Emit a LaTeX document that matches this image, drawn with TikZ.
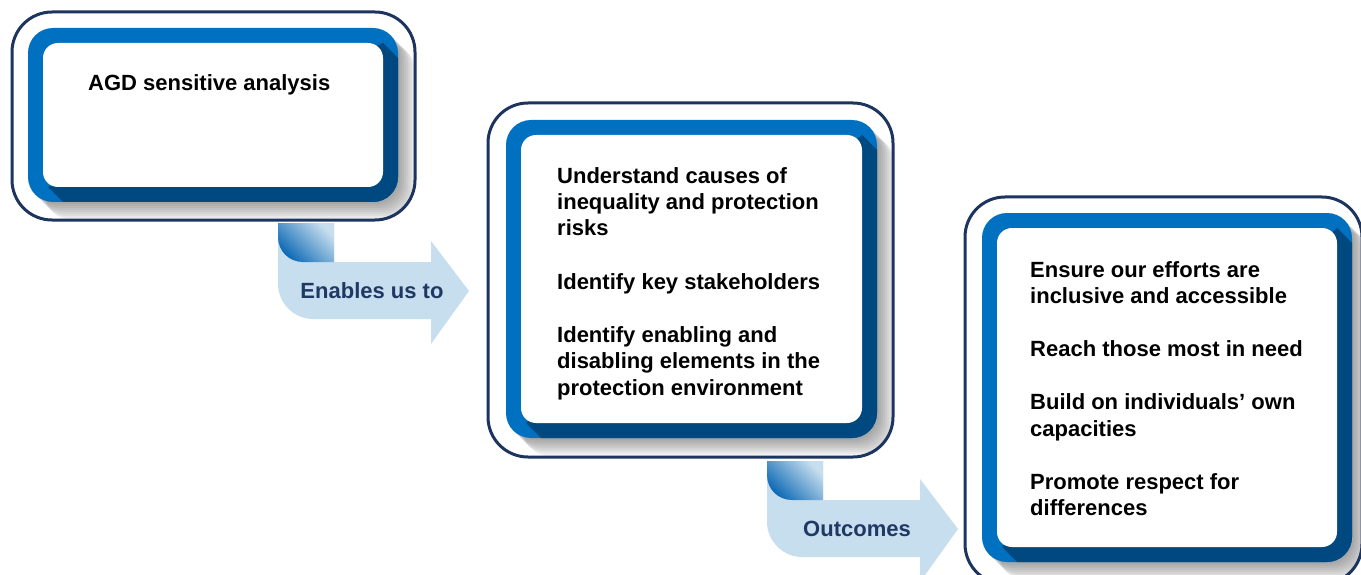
\documentclass[tikz,border=0pt]{standalone}
\usepackage{fontspec}
\setmainfont{Liberation Sans}
\usetikzlibrary{calc}
\definecolor{navy}{RGB}{28,52,94}
\definecolor{frameblue}{RGB}{0,112,192}
\definecolor{darkblue}{RGB}{0,72,128}
\definecolor{lightarrow}{RGB}{199,222,238}
\definecolor{gradblue}{RGB}{10,104,180}
\definecolor{arrowtext}{RGB}{31,56,100}
\tikzset{
  txt/.style={anchor=base west, inner sep=0pt, font=\fontsize{22}{26.5}\selectfont\bfseries, text=black},
  arrtxt/.style={anchor=base, inner sep=0pt, font=\fontsize{22}{26.5}\selectfont\bfseries, text=arrowtext},
  outerline/.style={draw=navy, line width=3pt, rounded corners=40pt},
}
% #1-#4 outer box, #5-#8 blue frame
\newcommand{\agdpanel}[8]{%
  \fill[white, rounded corners=40pt] (#1,#2) rectangle (#3,#4);
  \begin{scope}
    \clip[rounded corners=40pt] (#1,#2) rectangle (#3,#4);
    \foreach \k in {2,4,...,18} {
      \fill[black, opacity=0.045, rounded corners=25pt] ($(#5,#6)+(\k,\k)$) rectangle ($(#7,#8)+(\k,\k)$);
    }
  \end{scope}
  \draw[outerline] (#1,#2) rectangle (#3,#4);
  \fill[frameblue, rounded corners=25pt] (#5,#6) rectangle (#7,#8);
  \begin{scope}
    \clip[rounded corners=25pt] (#5,#6) rectangle (#7,#8);
    \fill[darkblue] ($(#5,#8)+(20,-15)$) -- ($(#5,#8)+(50,15)$) -- ($(#7,#8)+(15,15)$)
       -- ($(#7,#6)+(15,45)$) -- ($(#7,#6)+(-15,15)$) -- cycle;
  \end{scope}
  \fill[white, rounded corners=15pt] ($(#5,#6)+(15,15)$) rectangle ($(#7,#8)+(-15,-15)$);
}
\newcommand{\agdarrow}[2]{%
  \begin{scope}[shift={(#1,#2)}]
    \fill[lightarrow] (334,223) -- (278,223) -- (278,284)
      .. controls (278,303) and (294,319) .. (313,319)
      -- (431,319) -- (431,344) -- (469,291) -- (431,241) -- (431,262) -- (334,262) -- cycle;
    \shade[shading=axis, top color=lightarrow, bottom color=gradblue, shading angle=-45]
      (278,223) -- (278,237) .. controls (278,251) and (289,262) .. (303,262)
      -- (334,262) -- (334,223) -- cycle;
  \end{scope}
}
\begin{document}
\begin{tikzpicture}[x=1pt, y=-1pt]
\useasboundingbox (0,0) rectangle (1361,575);
\begin{scope}
\clip (0,0) rectangle (1361,575);
\fill[white] (0,0) rectangle (1361,575);

% arrows
\agdarrow{0}{0}
\agdarrow{489}{238}

% panels
\agdpanel{12}{12}{415}{220}{28}{28}{398}{202}
\agdpanel{488}{103}{893}{457}{506}{120}{877}{438}
\agdpanel{965}{197}{1362}{584}{982}{213}{1352}{562}

% box 1 text
\node[txt] (a1) at (88,91) {AGD sensitive analysis};

% box 2 text
\node[txt] (b1) at (557,183) {Understand causes of};
\node[txt] (b2) at (557,209.5) {inequality and protection};
\node[txt] (b3) at (557,236) {risks};
\node[txt] (b4) at (557,289) {Identify key stakeholders};
\node[txt] (b5) at (557,342) {Identify enabling and};
\node[txt] (b6) at (557,368.5) {disabling elements in the};
\node[txt] (b7) at (557,395) {protection environment};

% box 3 text
\node[txt] (c1) at (1030,277) {Ensure our efforts are};
\node[txt] (c2) at (1030,303.5) {inclusive and accessible};
\node[txt] (c3) at (1030,356.5) {Reach those most in need};
\node[txt] (c4) at (1030,409.5) {Build on individuals’ own};
\node[txt] (c5) at (1030,436) {capacities};
\node[txt] (c6) at (1030,489) {Promote respect for};
\node[txt] (c7) at (1030,515.5) {differences};

% arrow labels
\node[arrtxt] (l1) at (372,298) {Enables us to};
\node[arrtxt] (l2) at (857,536) {Outcomes};
\end{scope}
\end{tikzpicture}
\end{document}
